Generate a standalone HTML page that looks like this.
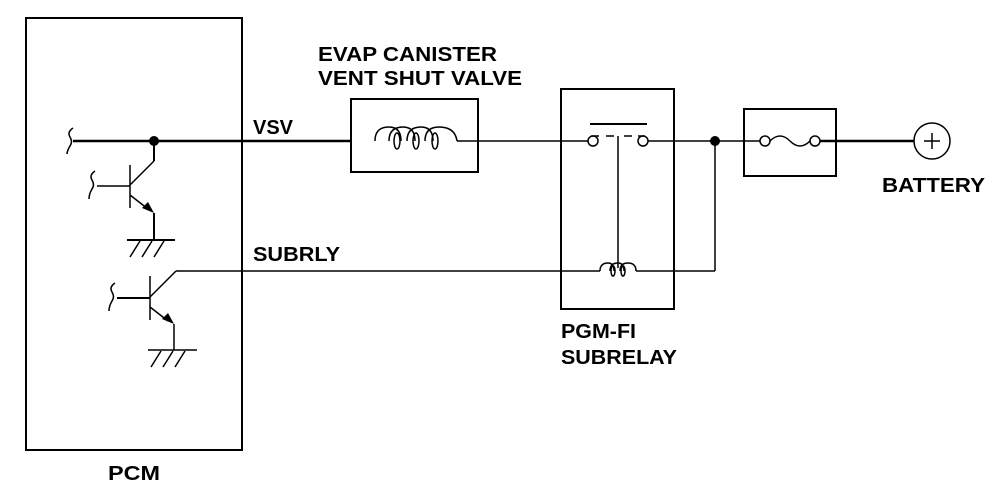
<!DOCTYPE html>
<html><head><style>
html,body{margin:0;padding:0;background:#fff;}
svg{display:block;}
text{font-family:"Liberation Sans",Arial,sans-serif;font-weight:bold;font-size:20px;fill:#000;}
</style></head><body>
<svg width="1008" height="502" viewBox="0 0 1008 502" xmlns="http://www.w3.org/2000/svg">
<g fill="none" stroke="#000" stroke-width="1.5">
<rect x="26" y="18" width="216" height="432" stroke-width="2"/>
<line x1="73" y1="141" x2="352" y2="141" stroke-width="2.5"/>
<path d="M73 128 q-6 4 -3 9 q3 5 0 9 q-3 5 -3 8"/>
<line x1="154" y1="141" x2="154" y2="161" stroke-width="2"/>
<line x1="154" y1="161" x2="130" y2="185"/>
<line x1="130" y1="165" x2="130" y2="208"/>
<line x1="97" y1="186" x2="130" y2="186"/>
<path d="M95 171 q-6 4 -3 9 q3 5 0 9 q-3 5 -3 10"/>
<line x1="130" y1="195" x2="148" y2="209"/>
<line x1="154" y1="213" x2="154" y2="240" stroke-width="2"/>
<line x1="127" y1="240" x2="175" y2="240" stroke-width="2"/>
<path d="M140 241 l-10 16 M152 241 l-10 16 M164 241 l-10 16"/>
<line x1="176" y1="271" x2="150" y2="297"/>
<line x1="176" y1="271" x2="600" y2="271"/>
<line x1="150" y1="276" x2="150" y2="320"/>
<line x1="117" y1="298" x2="150" y2="298" stroke-width="2"/>
<path d="M115 283 q-6 4 -3 9 q3 5 0 9 q-3 5 -3 10"/>
<line x1="150" y1="307" x2="168" y2="321"/>
<line x1="174" y1="324" x2="174" y2="350"/>
<line x1="148" y1="350" x2="197" y2="350"/>
<path d="M161 351 l-10 16 M173 351 l-10 16 M185 351 l-10 16"/>
<rect x="351" y="99" width="127" height="73" stroke-width="2"/>
<path d="M375 141 q0 -14 14 -14 q12 0 12 14 M389 141 q0 -14 14 -14 q12 0 12 14 M407 141 q0 -14 14 -14 q12 0 12 14 M425 141 q0 -14 14 -14 q16 0 18 14" />
<ellipse cx="397" cy="141" rx="3" ry="8"/><ellipse cx="416" cy="141" rx="3" ry="8"/><ellipse cx="435" cy="141" rx="3" ry="8"/>
<line x1="457" y1="141" x2="588" y2="141"/>
<rect x="561" y="89" width="113" height="220" stroke-width="2"/>
<circle cx="593" cy="141" r="5"/><circle cx="643" cy="141" r="5"/>
<line x1="590" y1="124" x2="647" y2="124" stroke-width="2"/>
<path d="M591 136 h8 M606 136 h8 M624 136 h8 M638 136 h7"/>
<line x1="618" y1="136" x2="618" y2="268"/>
<path d="M600 271 q0 -8 8 -8 q6 0 6 8 M610 271 q0 -8 8 -8 q6 0 6 8 M620 271 q0 -8 8 -8 q8 0 8 8"/>
<ellipse cx="613" cy="271" rx="2" ry="5"/><ellipse cx="623" cy="271" rx="2" ry="5"/>
<line x1="636" y1="271" x2="715" y2="271"/>
<line x1="715" y1="141" x2="715" y2="271"/>
<line x1="648" y1="141" x2="760" y2="141"/>
<rect x="744" y="109" width="92" height="67" stroke-width="2"/>
<circle cx="765" cy="141" r="5"/><circle cx="815" cy="141" r="5"/>
<path d="M770 141 q10 -10 20 0 q10 10 20 0"/>
<line x1="820" y1="141" x2="914" y2="141" stroke-width="2.5"/>
<circle cx="932" cy="141" r="18"/>
<path d="M932 133 v16 M924 141 h16"/>
</g>
<circle cx="154" cy="141" r="5" fill="#000"/>
<circle cx="715" cy="141" r="5" fill="#000"/>
<polygon points="154,213 142,208 148,202" fill="#000"/>
<polygon points="174,324 162,319 168,313" fill="#000"/>
<text x="318" y="61" textLength="179" lengthAdjust="spacingAndGlyphs">EVAP CANISTER</text>
<text x="318" y="85" textLength="204" lengthAdjust="spacingAndGlyphs">VENT SHUT VALVE</text>
<text x="253" y="134" textLength="40" lengthAdjust="spacingAndGlyphs">VSV</text>
<text x="253" y="261" textLength="87" lengthAdjust="spacingAndGlyphs">SUBRLY</text>
<text x="561" y="338" textLength="75" lengthAdjust="spacingAndGlyphs">PGM-FI</text>
<text x="561" y="364" textLength="116" lengthAdjust="spacingAndGlyphs">SUBRELAY</text>
<text x="108" y="480" textLength="52" lengthAdjust="spacingAndGlyphs">PCM</text>
<text x="882" y="192" textLength="103" lengthAdjust="spacingAndGlyphs">BATTERY</text>
</svg>
</body></html>
